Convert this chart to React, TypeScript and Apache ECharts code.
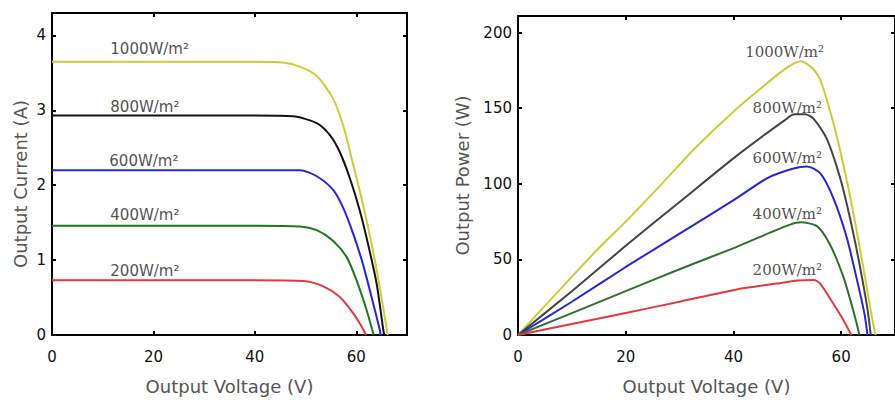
import React, { useEffect, useRef } from "react";
import * as echarts from "echarts";

// ---------- data ----------
const irradianceNames = ["1000W/m²", "800W/m²", "600W/m²", "400W/m²", "200W/m²"];
const seriesColors = ["#cccc3a", "#111111", "#2626d6", "#237523", "#e23a3a"];
const pvColors = ["#cccc3a", "#444444", "#2626d6", "#2f6f2f", "#e23a3a"];

// I-V curves: [voltage (V), current (A)]
const iv1000 = [[0, 3.65], [10, 3.65], [20, 3.65], [30, 3.65], [40, 3.65], [45.6, 3.64], [49, 3.58], [52.2, 3.46], [55.4, 3.16], [57.4, 2.8], [59.4, 2.27], [61.3, 1.75], [63.0, 1.22], [64.6, 0.65], [66.0, 0.08], [66.2, 0]];
const iv800 = [[0, 2.93], [10, 2.93], [20, 2.93], [30, 2.93], [40, 2.93], [47.5, 2.92], [52.2, 2.83], [54.8, 2.67], [56.7, 2.45], [58.7, 2.1], [60.7, 1.66], [62.3, 1.22], [64.0, 0.69], [65.3, 0.08], [65.5, 0]];
const iv600 = [[0, 2.2], [10, 2.2], [20, 2.2], [30, 2.2], [40, 2.2], [48.9, 2.2], [52.2, 2.12], [55.4, 1.94], [57.4, 1.7], [59.4, 1.35], [61.3, 0.95], [63.0, 0.51], [64.6, 0.08], [64.8, 0]];
const iv400 = [[0, 1.46], [10, 1.46], [20, 1.46], [30, 1.46], [40, 1.46], [48.9, 1.45], [52.2, 1.4], [55.4, 1.26], [58.1, 1.04], [60.0, 0.74], [62.0, 0.34], [63.3, 0.03], [63.4, 0]];
const iv200 = [[0, 0.73], [10, 0.73], [20, 0.73], [30, 0.73], [40, 0.73], [49.5, 0.72], [53.5, 0.65], [56.7, 0.51], [59.4, 0.29], [61.0, 0.12], [61.9, 0]];

// P-V curves: [voltage (V), power (W)]
const pv1000 = [[0, 0], [7, 27], [14.6, 56], [20, 75], [26.7, 100], [33, 124], [40.4, 149], [46.4, 167], [50, 177], [52.5, 181], [54.5, 177], [56.1, 169], [58.5, 141], [60.4, 113], [62.2, 82], [64.0, 47], [65.8, 10], [66.4, 0]];
const pv800 = [[0, 0], [10, 29], [20, 59], [30, 88], [40.4, 118], [46, 133], [49.5, 142], [51.3, 146], [53.3, 146], [54.9, 143], [57.3, 130], [59.8, 104], [61.6, 78], [63.4, 47], [64.9, 17], [65.5, 0]];
const pv600 = [[0, 0], [10, 22], [20, 45], [30, 67], [40.4, 90], [46.4, 104], [51, 110], [53.7, 111.5], [56.1, 107], [58.5, 91], [61.0, 65], [62.8, 38.6], [64.3, 14.6], [64.9, 0]];
const pv400 = [[0, 0], [10, 14.5], [20, 29], [30, 43.5], [40.4, 58], [47, 68], [50.5, 73], [52.5, 74.5], [55.5, 72], [57.9, 60], [60.4, 38.6], [62.2, 16.8], [63.4, 0]];
const pv200 = [[0, 0], [10, 7.3], [20, 14.6], [30, 22], [40.4, 30], [48, 34], [52, 36], [54.9, 36.4], [56.1, 34], [58.5, 21], [60.4, 10], [61.9, 0]];

const ivCurves = [iv1000, iv800, iv600, iv400, iv200];
const pvCurves = [pv1000, pv800, pv600, pv400, pv200];

// annotation anchors in data units
const ivLabelAnchors = [[11.4, 3.82], [11.4, 3.05], [11.2, 2.32], [11.4, 1.6], [11.4, 0.85]];
const pvLabelAnchors = [[49.5, 187], [50, 150], [50, 117], [50, 80], [50, 43]];

const xTickInterval = 20;
const ivMax = 4.3;
const pvMax = 211;

const SANS = "DejaVu Sans";
const SERIF = "DejaVu Serif";

function makeXAxis(gridIndex: number, top: boolean) {
  return {
    type: "value",
    gridIndex,
    position: top ? "top" : "bottom",
    min: 0,
    max: 70,
    interval: xTickInterval,
    axisLine: { show: true, onZero: false, lineStyle: { color: "#000", width: 2 } },
    axisTick: { show: true, inside: true, length: 4, lineStyle: { color: "#000", width: 2 } },
    axisLabel: top
      ? { show: false }
      : { show: true, margin: 14, showMaxLabel: false, fontFamily: SANS, fontSize: 15, color: "#111" },
    splitLine: { show: false },
    name: top ? "" : "Output Voltage (V)",
    nameLocation: "middle",
    nameGap: 42,
    nameTextStyle: { fontFamily: SANS, fontSize: 18, color: "#555" },
  };
}

function makeYAxis(gridIndex: number, right: boolean, max: number, interval: number, name: string, nameGap: number, padding: number[]) {
  return {
    type: "value",
    gridIndex,
    position: right ? "right" : "left",
    min: 0,
    max,
    interval,
    axisLine: { show: true, onZero: false, lineStyle: { color: "#000", width: 2 } },
    axisTick: { show: true, inside: true, length: 4, lineStyle: { color: "#000", width: 2 } },
    axisLabel: right
      ? { show: false }
      : { show: true, margin: 6, showMaxLabel: false, fontFamily: SANS, fontSize: 15, color: "#111" },
    splitLine: { show: false },
    name: right ? "" : name,
    nameLocation: "middle",
    nameGap,
    nameRotate: 90,
    nameTextStyle: { fontFamily: SANS, fontSize: 18, color: "#555", padding },
  };
}

export default function App() {
  const ref = useRef<HTMLDivElement>(null);

  useEffect(() => {
    if (!ref.current) return;
    const chart = echarts.init(ref.current, undefined, { renderer: "svg" });

    const series: any[] = [];
    ivCurves.forEach((d, i) => {
      series.push({
        type: "line",
        xAxisIndex: 0,
        yAxisIndex: 0,
        data: d,
        showSymbol: false,
        smooth: 0.25,
        lineStyle: { color: seriesColors[i], width: 2 },
        z: 3,
      });
    });
    pvCurves.forEach((d, i) => {
      series.push({
        type: "line",
        xAxisIndex: 2,
        yAxisIndex: 2,
        data: d,
        showSymbol: false,
        smooth: 0.25,
        lineStyle: { color: pvColors[i], width: 2 },
        z: 3,
      });
    });
    series.push({
      type: "scatter",
      xAxisIndex: 0,
      yAxisIndex: 0,
      symbolSize: 1,
      itemStyle: { color: "rgba(0,0,0,0)" },
      z: 5,
      data: ivLabelAnchors.map((p, i) => ({ value: p, name: irradianceNames[i] })),
      label: {
        show: true,
        position: "right",
        distance: 0,
        formatter: "{b}",
        fontFamily: SANS,
        fontSize: 15,
        color: "#222",
      },
    });
    series.push({
      type: "scatter",
      xAxisIndex: 2,
      yAxisIndex: 2,
      symbolSize: 1,
      itemStyle: { color: "rgba(0,0,0,0)" },
      z: 5,
      data: pvLabelAnchors.map((p, i) => ({ value: p, name: irradianceNames[i] })),
      label: {
        show: true,
        position: "inside",
        formatter: "{b}",
        fontFamily: SERIF,
        fontSize: 15,
        color: "#222",
      },
    });

    chart.setOption({
      animation: false,
      backgroundColor: "#ffffff",
      grid: [
        { left: 52, top: 13, width: 355, height: 326, containLabel: false },
        { left: 518, top: 16, width: 385, height: 323, containLabel: false },
      ],
      xAxis: [makeXAxis(0, false), makeXAxis(0, true), makeXAxis(1, false), makeXAxis(1, true)],
      yAxis: [
        makeYAxis(0, false, ivMax, 1, "Output Current (A)", 23, [0, 20, 0, 0]),
        makeYAxis(0, true, ivMax, 1, "", 0, [0, 0, 0, 0]),
        makeYAxis(1, false, pvMax, 50, "Output Power (W)", 47, [0, 0, 0, 0]),
        makeYAxis(1, true, pvMax, 50, "", 0, [0, 0, 0, 0]),
      ],
      series,
    });

    return () => chart.dispose();
  }, []);

  return (
    <div
      ref={ref}
      style={{ position: "absolute", left: 0, top: 0, width: 895, height: 400, background: "#fff" }}
    />
  );
}
